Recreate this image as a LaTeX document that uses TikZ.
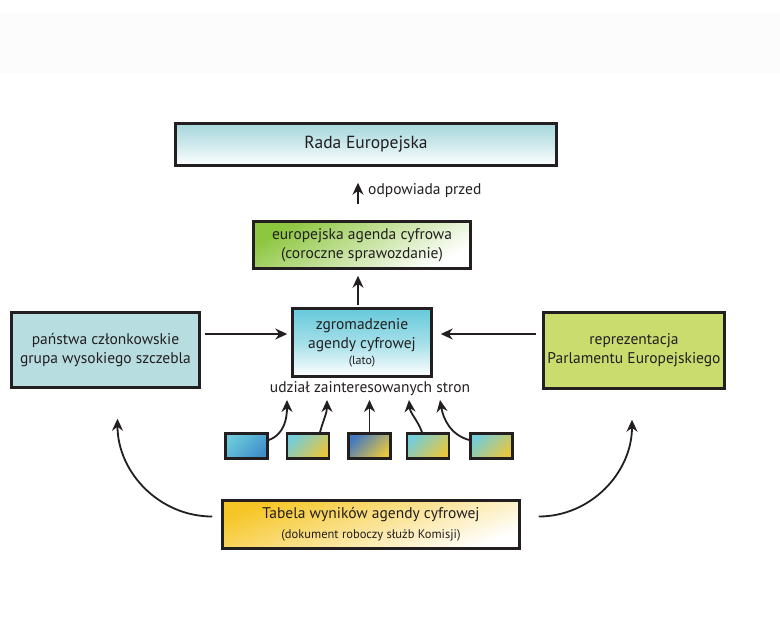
\documentclass[tikz,border=0pt]{standalone}
\usepackage{fontspec}
\setmainfont{PT Sans}
\usepackage{xcolor}
\usetikzlibrary{arrows.meta,positioning,calc}

\definecolor{ink}{HTML}{231F20}
\definecolor{radatop}{HTML}{A6D7DC}
\definecolor{agreen}{HTML}{8DC63F}
\definecolor{zcyan}{HTML}{66C9DA}
\definecolor{msblue}{HTML}{B7DDE1}
\definecolor{eplime}{HTML}{C9DC6D}
\definecolor{tyellow}{HTML}{F6C626}
\definecolor{sblue}{HTML}{3F8FCB}
\definecolor{scyan}{HTML}{6CCADB}
\definecolor{steal}{HTML}{74CDD8}
\definecolor{syellow}{HTML}{E8C640}
\definecolor{sdblue}{HTML}{4479BF}

\begin{document}
\begin{tikzpicture}[>=Stealth, x=1pt, y=-1pt,
    box/.style={draw=ink, line width=2.5pt, align=center, text=ink, inner sep=0pt},
    tiny/.style={draw=ink, line width=2.5pt, minimum width=42pt, minimum height=25pt, inner sep=0pt},
    conn/.style={-{Stealth[length=12pt,width=11pt]}, draw=ink, line width=1.8pt}]
    \useasboundingbox (0,0) rectangle (780,624);
    \fill[black!1] (0,13) rectangle (780,73);

    % Main boxes
    \node[box, minimum width=381pt, minimum height=42pt, top color=radatop, bottom color=white, middle color=radatop!55,
        font=\fontsize{17.5}{20}\selectfont] (rada) at (366,144.5) {Rada Europejska};
    \node[box, minimum width=217pt, minimum height=47pt, top color=agreen, bottom color=white, shading angle=30,
        font=\fontsize{15.5}{19}\selectfont] (eac) at (362,245) {europejska agenda cyfrowa\\(coroczne sprawozdanie)};
    \node[box, minimum width=139pt, minimum height=68pt, top color=zcyan, bottom color=white, middle color=zcyan!60,
        font=\fontsize{15.5}{19}\selectfont] (zgrom) at (362,342.5)
        {zgromadzenie\\agendy cyfrowej\\[-3pt]{\fontsize{12}{13}\selectfont(lato)}};
    \node[box, minimum width=188pt, minimum height=75pt, fill=msblue,
        font=\fontsize{15.5}{19}\selectfont] (pan) at (105.5,350) {państwa członkowskie\\grupa wysokiego szczebla};
    \node[box, minimum width=181pt, minimum height=76pt, fill=eplime,
        font=\fontsize{15.5}{19}\selectfont] (rep) at (634,350.5) {reprezentacja\\Parlamentu Europejskiego};
    \node[box, minimum width=297pt, minimum height=48pt, top color=tyellow, bottom color=white, shading angle=20,
        font=\fontsize{15.5}{19}\selectfont] (tab) at (371,524.5)
        {Tabela wyników agendy cyfrowej\\[1pt]{\fontsize{12.5}{13}\selectfont(dokument roboczy służb Komisji)}};

    % Stakeholders
    \node[text=ink, font=\fontsize{15.5}{17}\selectfont] (udz) at (370,389) {udział zainteresowanych stron};
    \node[tiny, top color=scyan, bottom color=sblue, shading angle=45] (s1) at (246.5,446) {};
    \node[tiny, top color=steal, bottom color=syellow, shading angle=45] (s2) at (308,446) {};
    \node[tiny, top color=sdblue, bottom color=syellow, shading angle=45] (s3) at (369.5,446) {};
    \node[tiny, top color=steal, bottom color=syellow, shading angle=45] (s4) at (428,446) {};
    \node[tiny, top color=steal, bottom color=syellow, shading angle=45] (s5) at (491.5,446) {};

    % Arrows up
    \draw[conn, shorten <=16pt, shorten >=16pt] ([xshift=-4pt]eac.north) -- ([xshift=-4pt]eac.north |- rada.south)
        node[pos=0.55, right=6pt, text=ink, font=\fontsize{15.5}{17}\selectfont] (odp) {odpowiada przed};
    \draw[conn, shorten <=2pt, shorten >=6pt] ([xshift=-4pt]zgrom.north) -- ([xshift=-4pt]zgrom.north |- eac.south);

    % Arrows into the assembly
    \coordinate (zin) at ([yshift=8.5pt]zgrom.west);
    \coordinate (zout) at ([yshift=8.5pt]zgrom.east);
    \draw[conn, shorten <=4pt, shorten >=4pt] (pan.east |- zin) -- (zin);
    \draw[conn, shorten <=6pt, shorten >=8pt] (rep.west |- zout) -- (zout);

    % Stakeholder arrows
    \coordinate (u1) at (287,400);
    \coordinate (u2) at (327,400);
    \coordinate (u3) at (369.5,400);
    \coordinate (u4) at (409,400);
    \coordinate (u5) at (440,400);
    \draw[conn] ([yshift=6pt]s1.east) to[out=20, in=-90] (u1);
    \draw[conn] ([xshift=12pt]s2.north) to[out=75, in=-90] (u2);
    \draw[conn] (s3.north) -- (u3);
    \draw[conn] ([xshift=-6pt]s4.north) to[out=110, in=-85] (u4);
    \draw[conn] ([yshift=6pt]s5.west) to[out=165, in=-80] (u5);

    % Scoreboard feeds both sides
    \draw[conn] ([xshift=-9pt,yshift=8pt]tab.west) to[out=180, in=-90] ([xshift=12pt,yshift=-30pt]pan.south);
    \draw[conn] ([xshift=18pt,yshift=8pt]tab.east) to[out=0, in=-90] ([xshift=-2pt,yshift=-30pt]rep.south);
\end{tikzpicture}
\end{document}
